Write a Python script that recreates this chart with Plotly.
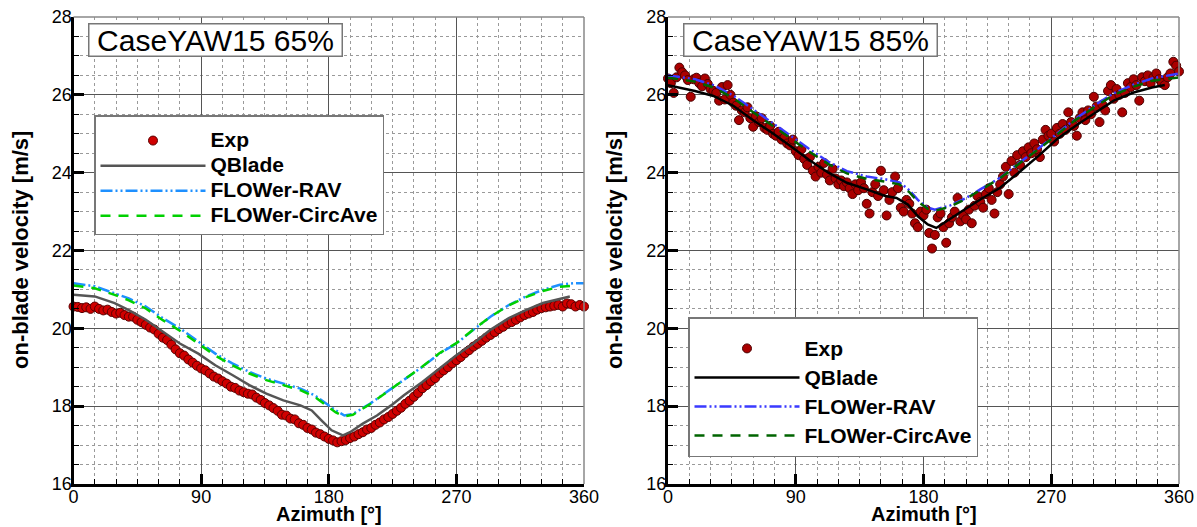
import plotly.graph_objects as go

# ---------------- DATA ----------------
# Left panel: CaseYAW15 65%
exp65_az = list(range(0, 361, 3))
exp65_v = [20.56, 20.55, 20.52, 20.54, 20.50, 20.56, 20.50, 20.46, 20.48, 20.42,
           20.38, 20.40, 20.34, 20.30, 20.30, 20.22, 20.16, 20.09, 20.02, 19.97,
           19.86, 19.76, 19.70, 19.58, 19.46, 19.36, 19.30, 19.20, 19.12, 19.04,
           18.97, 18.92, 18.84, 18.76, 18.71, 18.64, 18.58, 18.50, 18.47, 18.40,
           18.36, 18.32, 18.30, 18.22, 18.16, 18.08, 18.02, 17.95, 17.88, 17.78,
           17.76, 17.68, 17.66, 17.56, 17.52, 17.44, 17.40, 17.32, 17.28, 17.22,
           17.16, 17.12, 17.07, 17.10, 17.13, 17.18, 17.22, 17.28, 17.33, 17.40,
           17.44, 17.52, 17.58, 17.66, 17.72, 17.80, 17.88, 17.96, 18.06, 18.14,
           18.24, 18.34, 18.46, 18.54, 18.64, 18.72, 18.84, 18.92, 19.00, 19.10,
           19.18, 19.26, 19.36, 19.44, 19.53, 19.60, 19.68, 19.76, 19.83, 19.90,
           19.98, 20.04, 20.12, 20.16, 20.22, 20.28, 20.34, 20.38, 20.42, 20.48,
           20.52, 20.54, 20.56, 20.58, 20.60, 20.56, 20.64, 20.62, 20.56, 20.60,
           20.56]

qb65_az = [0, 15, 29, 39, 51, 63, 75, 88, 100, 112, 124, 136, 148, 160, 168, 175,
           182, 190, 195, 204, 214, 224, 233, 246, 258, 270, 282, 294, 307, 319,
           331, 343, 350]
qb65_v = [20.86, 20.82, 20.65, 20.47, 20.22, 19.91, 19.61, 19.35, 19.05, 18.80,
          18.54, 18.32, 18.15, 18.02, 17.89, 17.63, 17.38, 17.25, 17.33, 17.55,
          17.76, 18.02, 18.28, 18.62, 18.97, 19.31, 19.61, 19.96, 20.26, 20.47,
          20.65, 20.77, 20.82]

rav65_az = [0, 15, 29, 39, 51, 63, 75, 88, 100, 112, 124, 136, 148, 160, 170, 178,
            185, 191, 197, 209, 221, 233, 246, 258, 270, 282, 294, 307, 319, 331,
            343, 353, 360]
rav65_v = [21.16, 21.08, 20.90, 20.77, 20.56, 20.26, 20.00, 19.66, 19.35, 19.10,
           18.88, 18.71, 18.58, 18.45, 18.28, 18.06, 17.89, 17.76, 17.80, 18.06,
           18.37, 18.67, 19.01, 19.35, 19.61, 19.96, 20.30, 20.60, 20.82, 20.99,
           21.12, 21.16, 21.16]

ca65_az = [0, 15, 29, 39, 51, 63, 75, 88, 100, 112, 124, 136, 148, 160, 170, 178,
           185, 191, 197, 209, 221, 233, 246, 258, 270, 282, 294, 307, 319, 331,
           343, 355]
ca65_v = [21.10, 21.03, 20.86, 20.72, 20.51, 20.21, 19.94, 19.61, 19.30, 19.05,
          18.84, 18.67, 18.54, 18.41, 18.24, 18.02, 17.84, 17.74, 17.78, 18.05,
          18.36, 18.67, 19.02, 19.36, 19.62, 19.97, 20.30, 20.59, 20.80, 20.96,
          21.07, 21.10]

# Right panel: CaseYAW15 85%
exp85_az = list(range(0, 361, 2))
exp85_v = [26.42, 26.30, 26.05, 26.45, 26.70, 26.58, 26.50, 26.38, 25.95, 26.40,
           26.44, 26.30, 26.22, 26.42, 26.28, 26.15, 26.10, 26.05, 25.85, 26.20,
           25.88, 26.25, 26.00, 25.80, 25.72, 25.35, 25.60, 25.55, 25.68, 25.40,
           25.18, 25.45, 25.30, 25.40, 25.15, 25.10, 25.20, 25.00, 24.95, 25.05,
           24.85, 24.90, 24.75, 24.70, 24.85, 24.55, 24.45, 24.60, 24.35, 24.20,
           24.40, 24.05, 23.90, 24.15, 24.00, 24.25, 23.95, 23.80, 24.10, 23.85,
           23.70, 23.80, 23.65, 23.75, 23.60, 23.45, 23.70, 23.55, 23.75, 23.60,
           23.20, 22.95, 23.50, 23.70, 23.40, 24.05, 23.55, 22.90, 23.30, 23.50,
           23.90, 23.60, 23.10, 23.00, 23.30, 23.20, 22.95, 22.70, 22.60, 23.00,
           22.90, 23.05, 22.45, 22.05, 22.40, 22.85, 22.95, 22.60, 22.20, 22.70,
           22.85, 23.00, 23.35, 22.75, 22.90, 22.80, 23.05, 22.70, 23.15, 23.40,
           23.25, 23.10, 23.45, 23.60, 23.30, 22.95, 23.50, 23.70, 23.90, 24.15,
           23.45, 24.30, 24.00, 24.45, 24.20, 24.55, 24.40, 24.65, 24.50, 24.75,
           24.60, 24.40, 24.85, 25.10, 24.95, 25.00, 24.80, 25.15, 25.00, 25.25,
           25.10, 25.55, 25.30, 25.20, 24.95, 25.40, 25.55, 25.35, 25.60, 25.50,
           25.95, 25.70, 25.30, 25.75, 25.60, 26.10, 26.25, 25.90, 26.15, 26.00,
           25.55, 26.05, 26.30, 26.20, 26.40, 26.25, 25.85, 26.45, 26.35, 26.50,
           26.30, 26.45, 26.55, 26.40, 26.30, 26.25, 26.45, 26.55, 26.85, 26.75,
           26.60]

qb85_az = [0, 19, 32, 46, 59, 73, 86, 99, 113, 126, 140, 153, 161, 169, 176, 183,
           189, 196, 207, 220, 234, 247, 261, 274, 287, 301, 314, 328, 341, 350]
qb85_v = [26.25, 26.10, 25.97, 25.72, 25.37, 25.03, 24.69, 24.34, 24.00, 23.74,
          23.57, 23.40, 23.35, 23.18, 22.88, 22.67, 22.58, 22.75, 23.01, 23.31,
          23.61, 24.00, 24.43, 24.86, 25.20, 25.54, 25.85, 26.06, 26.19, 26.25]

rav85_az = [0, 19, 32, 46, 59, 73, 86, 99, 113, 126, 140, 153, 163, 170, 176, 183,
            188, 199, 210, 220, 234, 247, 261, 274, 287, 301, 314, 328, 341, 360]
rav85_v = [26.50, 26.40, 26.25, 25.98, 25.65, 25.30, 24.96, 24.62, 24.28, 24.04,
           23.90, 23.83, 23.75, 23.55, 23.30, 23.10, 23.05, 23.16, 23.35, 23.57,
           23.87, 24.24, 24.62, 25.00, 25.38, 25.74, 26.04, 26.26, 26.42, 26.55]

ca85_az = rav85_az
ca85_v = [26.44, 26.34, 26.19, 25.92, 25.58, 25.23, 24.89, 24.55, 24.22, 23.98,
          23.84, 23.77, 23.70, 23.50, 23.26, 23.07, 23.02, 23.13, 23.33, 23.55,
          23.86, 24.22, 24.60, 24.98, 25.35, 25.70, 26.00, 26.21, 26.36, 26.45]

names = ["Exp", "QBlade", "FLOWer-RAV", "FLOWer-CircAve"]
titles = ["CaseYAW15 65%", "CaseYAW15 85%"]
x_ticks = [0, 90, 180, 270, 360]
y_ticks = [16, 18, 20, 22, 24, 26, 28]

# ---------------- FIGURE ----------------
FONT = "Liberation Sans, Arial, Helvetica, sans-serif"
W, H = 1197, 527
fig = go.Figure()

rav_dash = "12px,3px,2px,3px,2px,3px"
ca_dash = "10px,8px"

def legname(s):
    return "<span style='font-size:21px'>" + s + "</span>"

panels = [
    dict(xa="x", ya="y", leg="legend", exp=(exp65_az, exp65_v), qb=(qb65_az, qb65_v),
         rav=(rav65_az, rav65_v), ca=(ca65_az, ca65_v),
         mfill="#D00000", mline="#5a0000", qbc="#555555", ravc="#1E90FF", cac="#00D000"),
    dict(xa="x2", ya="y2", leg="legend2", exp=(exp85_az, exp85_v), qb=(qb85_az, qb85_v),
         rav=(rav85_az, rav85_v), ca=(ca85_az, ca85_v),
         mfill="#AA0000", mline="#4a0000", qbc="#000000", ravc="#3A3AFF", cac="#006400"),
]

for p in panels:
    fig.add_trace(go.Scatter(x=p["exp"][0], y=p["exp"][1], mode="markers", name=legname(names[0]),
                             xaxis=p["xa"], yaxis=p["ya"], legend=p["leg"], cliponaxis=False,
                             marker=dict(size=9, color=p["mfill"], line=dict(color=p["mline"], width=1))))
    fig.add_trace(go.Scatter(x=p["qb"][0], y=p["qb"][1], mode="lines", name=legname(names[1]),
                             xaxis=p["xa"], yaxis=p["ya"], legend=p["leg"],
                             line=dict(color=p["qbc"], width=2.5)))
    fig.add_trace(go.Scatter(x=p["rav"][0], y=p["rav"][1], mode="lines", name=legname(names[2]),
                             xaxis=p["xa"], yaxis=p["ya"], legend=p["leg"],
                             line=dict(color=p["ravc"], width=2.5, dash=rav_dash)))
    fig.add_trace(go.Scatter(x=p["ca"][0], y=p["ca"][1], mode="lines", name=legname(names[3]),
                             xaxis=p["xa"], yaxis=p["ya"], legend=p["leg"],
                             line=dict(color=p["cac"], width=2.5, dash=ca_dash)))

def xaxis_cfg(domain, anchor):
    return dict(domain=domain, anchor=anchor, range=[0, 360], tickvals=x_ticks,
                ticks="inside", ticklen=10, tickwidth=3, tickcolor="black",
                showline=True, linewidth=3, linecolor="black",
                showgrid=True, gridcolor="#555555", gridwidth=1, zeroline=False,
                tickfont=dict(family=FONT, size=18, color="black"), ticklabelstandoff=-6,
                minor=dict(dtick=15, tick0=0, ticks="inside", ticklen=5, tickwidth=1,
                           tickcolor="black", showgrid=True, gridcolor="#9a9a9a",
                           griddash="dot", gridwidth=1),
                automargin=False, layer="above traces")

def yaxis_cfg(anchor):
    return dict(domain=[1 - 484 / H, 1 - 17 / H], anchor=anchor, range=[16, 28], tickvals=y_ticks,
                ticks="inside", ticklen=10, tickwidth=3, tickcolor="black",
                showline=True, linewidth=3, linecolor="black",
                showgrid=True, gridcolor="#555555", gridwidth=1, zeroline=False,
                tickfont=dict(family=FONT, size=18, color="black"), ticklabelstandoff=-5,
                minor=dict(dtick=0.5, tick0=16, ticks="inside", ticklen=5, tickwidth=1,
                           tickcolor="black", showgrid=True, gridcolor="#9a9a9a",
                           griddash="dot", gridwidth=1),
                automargin=False, layer="above traces")

fig.update_layout(
    width=W, height=H, margin=dict(l=0, r=0, t=0, b=0),
    paper_bgcolor="white", plot_bgcolor="white",
    font=dict(family=FONT, color="black"),
    xaxis=xaxis_cfg([73.5 / W, 584 / W], "y"),
    yaxis=yaxis_cfg("x"),
    xaxis2=xaxis_cfg([668 / W, 1179 / W], "y2"),
    yaxis2=yaxis_cfg("x2"),
)

legend_common = dict(xanchor="left", yanchor="top", bgcolor="white", bordercolor="#777777",
                     borderwidth=1.5, itemwidth=105, traceorder="normal")
fig.update_layout(
    legend=dict(x=94 / W, y=1 - 115 / H,
                font=dict(family=FONT, size=17, color="black", weight="bold"),
                title=dict(text=" ", font=dict(size=5)), **legend_common),
    legend2=dict(x=688 / W, y=1 - 317 / H,
                 font=dict(family=FONT, size=20, color="black", weight="bold"),
                 title=dict(text=" ", font=dict(size=8)), **legend_common),
)

shapes = []
annotations = []
for xa, ya in [("x", "y"), ("x2", "y2")]:
    shapes.append(dict(type="line", xref=xa + " domain", yref=ya + " domain", x0=0, x1=1, y0=1, y1=1,
                       line=dict(color="#888888", width=1.5)))
    shapes.append(dict(type="line", xref=xa + " domain", yref=ya + " domain", x0=1, x1=1, y0=0, y1=1,
                       line=dict(color="#888888", width=1.5)))
fig.update_layout(shapes=shapes)

for i, (x0, xc, ytx) in enumerate([(88, 328.75, 20), (683, 923.5, 614)]):
    annotations.append(dict(text=titles[i], x=x0 / W, y=1 - 23 / H, xref="paper", yref="paper",
                            xanchor="left", yanchor="top", showarrow=False, width=250, height=29,
                            font=dict(family=FONT, size=30, color="black"),
                            bgcolor="white", bordercolor="#777777", borderwidth=1.5, borderpad=1))
    annotations.append(dict(text="Azimuth [°]", x=xc / W, y=1 - 513.5 / H, xref="paper", yref="paper",
                            xanchor="center", yanchor="middle", showarrow=False,
                            font=dict(family=FONT, size=20, color="black", weight="bold")))
    annotations.append(dict(text="on-blade velocity [m/s]", x=ytx / W, y=1 - 250 / H, xref="paper",
                            yref="paper", xanchor="center", yanchor="middle", showarrow=False,
                            textangle=-90,
                            font=dict(family=FONT, size=22, color="black", weight="bold")))
fig.update_layout(annotations=annotations)

fig.write_html("out.html", config={"displayModeBar": False},
               post_script="document.body.style.margin='0px';")
